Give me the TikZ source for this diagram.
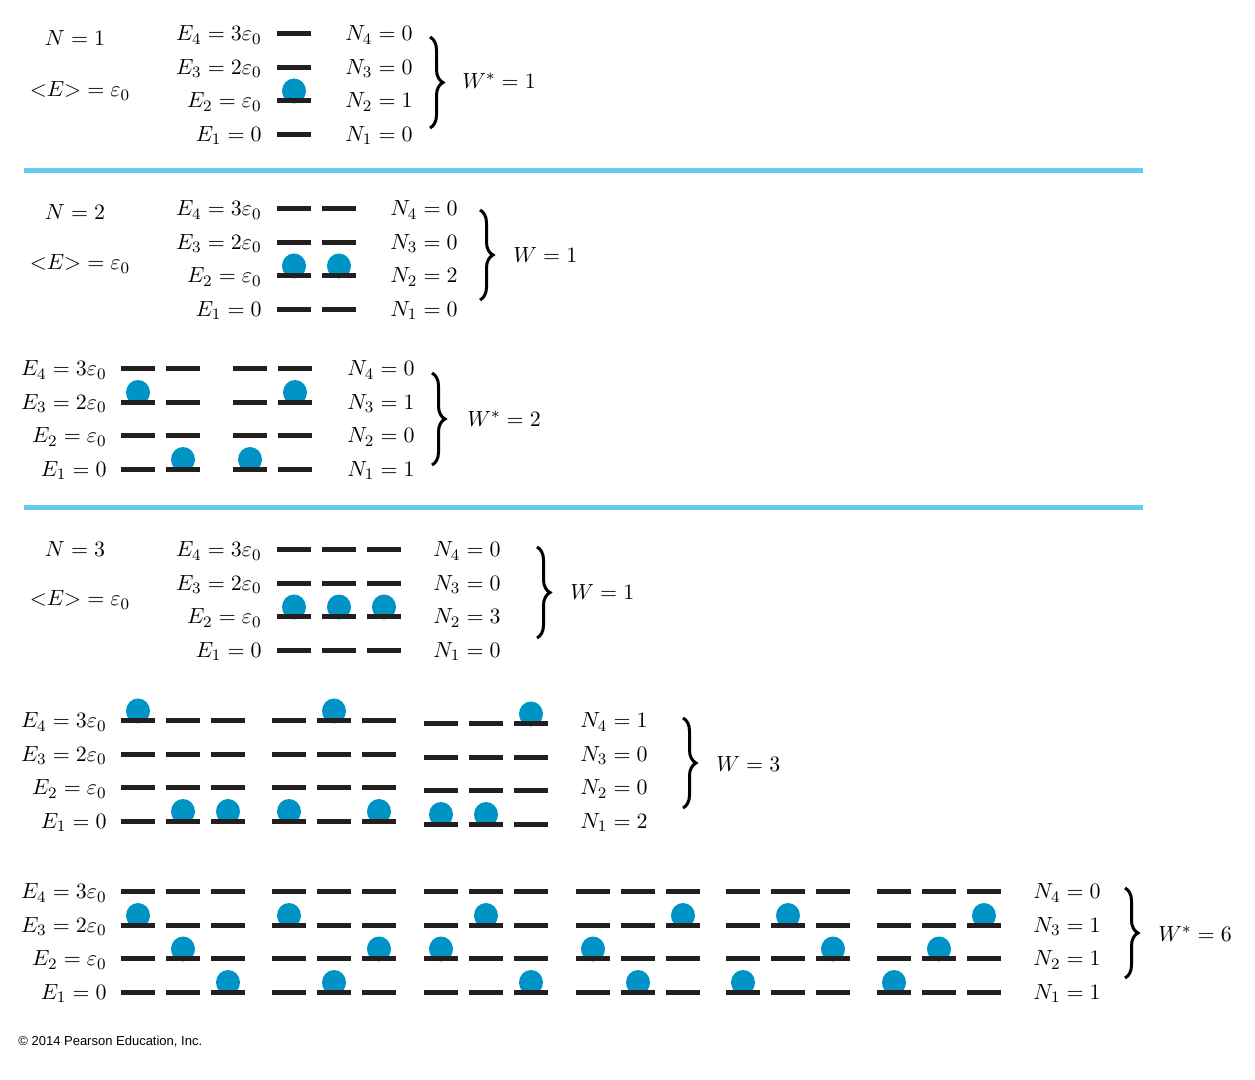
\documentclass[tikz,border=0pt]{standalone}
\usepackage{fontspec}
\newfontfamily\copyfont{Liberation Sans}
\usetikzlibrary{decorations.pathreplacing}
\definecolor{sepblue}{HTML}{66CBF2}
\definecolor{ballblue}{HTML}{0094C6}
\definecolor{barblack}{HTML}{231F20}

% one column of four levels, ball on level #3
\newcommand{\statecol}[3]{%
  \fill[ball] ({#1+17},{#2+33.5*(4-#3)-10}) ellipse (12 and 12.5);
  \foreach \k in {1,...,4}{
    \draw[lvl] ({#1},{#2+33.5*(4-\k)})--++(34,0);
  }
}
\newcommand{\elabels}[3]{%
  \foreach \k/\ev in {4/3\varepsilon_0,3/2\varepsilon_0,2/\varepsilon_0,1/0}{
    \node[elab] (#3e\k) at ({#1},{#2+33.5*(4-\k)+1}) {$E_\k = \ev$};
  }
}
\newcommand{\nlabels}[4]{%
  \foreach \k/\cnt in {#4}{
    \node[nlab] (#3n\k) at ({#1},{#2+33.5*(4-\k)+1}) {$N_\k = \cnt$};
  }
}

\begin{document}
\begin{tikzpicture}[x=0.5pt,y=-0.5pt,
    lvl/.style={barblack,line width=2.5pt},
    ball/.style={fill=ballblue},
    elab/.style={anchor=east,inner sep=0pt,font=\fontsize{11}{13}\selectfont},
    nlab/.style={anchor=west,inner sep=0pt,font=\fontsize{11}{13}\selectfont},
    txt/.style={inner sep=0pt,font=\fontsize{11}{13}\selectfont},
    sep/.style={sepblue,line width=2.5pt},
    brc/.style={decorate,decoration={brace,amplitude=6.5pt},line width=1.5pt}]
\useasboundingbox (0,0) rectangle (1255,1080);

% N = 1
\node[txt] (n1) at (75,38) {$N = 1$};
\node[txt] (avg1) at (80,91) {${<}E{>} = \varepsilon_0$};
\elabels{262}{34}{a}
\statecol{277}{34}{2}
\nlabels{345}{34}{a}{4/0,3/0,2/1,1/0}
\coordinate (a1) at (430,37);
\coordinate (a2) at (430,128);
\draw[brc] (a1)--(a2);
\node[nlab] (wa) at (462,81) {$W^* = 1$};

\coordinate (s1) at (24,171);
\coordinate (s2) at (1143,171);
\draw[sep] (s1)--(s2);

% N = 2
\node[txt] (n2) at (75,212) {$N = 2$};
\node[txt] (avg2) at (80,264) {${<}E{>} = \varepsilon_0$};
\elabels{262}{209}{b}
\foreach \x in {277,322}{\statecol{\x}{209}{2}}
\nlabels{390}{209}{b}{4/0,3/0,2/2,1/0}
\coordinate (b1) at (480,210);
\coordinate (b2) at (480,300);
\draw[brc] (b1)--(b2);
\node[nlab] (wb) at (513,255) {$W = 1$};

\elabels{107}{369}{c}
\foreach \x/\b in {121/3,166/1,233/1,278/3}{\statecol{\x}{369}{\b}}
\nlabels{347}{369}{c}{4/0,3/1,2/0,1/1}
\coordinate (c1) at (432,373);
\coordinate (c2) at (432,465);
\draw[brc] (c1)--(c2);
\node[nlab] (wc) at (467,419) {$W^* = 2$};

\coordinate (s3) at (24,508);
\coordinate (s4) at (1143,508);
\draw[sep] (s3)--(s4);

% N = 3
\node[txt] (n3) at (75,549) {$N = 3$};
\node[txt] (avg3) at (80,600) {${<}E{>} = \varepsilon_0$};
\elabels{262}{550}{d}
\foreach \x in {277,322,367}{\statecol{\x}{550}{2}}
\nlabels{433}{550}{d}{4/0,3/0,2/3,1/0}
\coordinate (d1) at (537,547);
\coordinate (d2) at (537,638);
\draw[brc] (d1)--(d2);
\node[nlab] (wd) at (570,592) {$W = 1$};

\elabels{107}{721}{e}
\foreach \x/\b in {121/4,166/1,211/1,272/1,317/4,362/1}{\statecol{\x}{721}{\b}}
\foreach \x/\b in {424/1,469/1,514/4}{\statecol{\x}{724}{\b}}
\nlabels{580}{721}{e}{4/1,3/0,2/0,1/2}
\coordinate (e1) at (683,718);
\coordinate (e2) at (683,808);
\draw[brc] (e1)--(e2);
\node[nlab] (we) at (716,764) {$W = 3$};

\elabels{107}{892}{f}
\foreach \x/\b in {121/3,166/2,211/1,272/3,317/1,362/2,424/2,469/3,514/1,
                   576/2,621/1,666/3,726/1,771/3,816/2,877/1,922/2,967/3}{
  \statecol{\x}{892}{\b}
}
\nlabels{1033}{892}{f}{4/0,3/1,2/1,1/1}
\coordinate (f1) at (1125,888);
\coordinate (f2) at (1125,978);
\draw[brc] (f1)--(f2);
\node[nlab] (wf) at (1158,934) {$W^* = 6$};

\node[anchor=west,inner sep=0pt,font=\copyfont\fontsize{6.5}{8}\selectfont] (copy) at (18,1042) {© 2014 Pearson Education, Inc.};
\end{tikzpicture}
\end{document}
